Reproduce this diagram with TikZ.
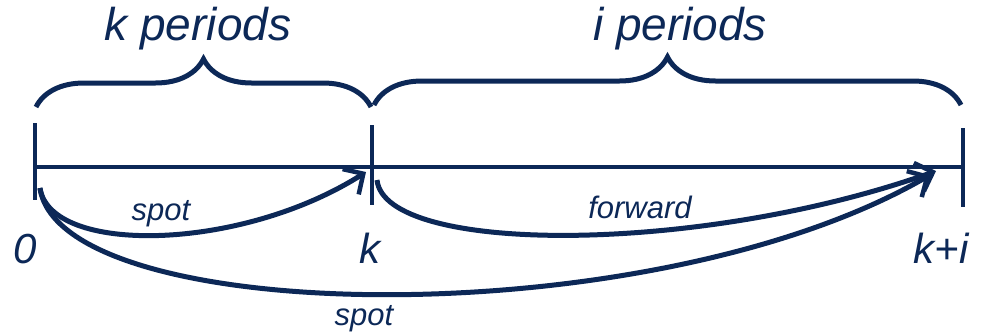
\documentclass[tikz,border=0pt]{standalone}
\usepackage{fontspec}
\setmainfont{Liberation Sans}
\usetikzlibrary{arrows.meta,decorations.pathreplacing}
\definecolor{navy}{RGB}{12,40,87}
\begin{document}
\begin{tikzpicture}[x=1pt,y=-1pt,
  every node/.style={text=navy,font=\itshape,inner sep=0pt},
  biglabel/.style={font=\fontsize{46}{52}\selectfont\itshape,anchor=base},
  ticklabel/.style={font=\fontsize{42}{48}\selectfont\itshape,anchor=base},
  arclabel/.style={font=\fontsize{31}{36}\selectfont\itshape,anchor=base},
  axis/.style={draw=navy,line width=3.5pt},
  period/.style={draw=navy,line width=5pt,decorate,decoration={brace,amplitude=48pt}},
  flow/.style={draw=navy,line width=5pt,-{Straight Barb[length=15pt,width=30pt,line width=4.5pt]}}]
\path[use as bounding box] (0,0) rectangle (986,333);

% time axis with tick marks
\coordinate (t0a) at (35,123);  \coordinate (t0b) at (35,200);
\coordinate (tka) at (372,125); \coordinate (tkb) at (372,205);
\coordinate (tia) at (963,128); \coordinate (tib) at (963,207);
\coordinate (ax0) at (35,167);  \coordinate (ax1) at (963,167);
\draw[axis] (ax0) -- (ax1);
\draw[axis] (t0a) -- (t0b);
\draw[axis] (tka) -- (tkb);
\draw[axis] (tia) -- (tib);

% period braces
\coordinate (b0) at (36,107);  \coordinate (b1) at (371,107);
\coordinate (b2) at (374,105); \coordinate (b3) at (961,105);
\draw[period] (b0) -- (b1);
\draw[period] (b2) -- (b3);
\node[biglabel] (kper) at (198,40) {k periods};
\node[biglabel] (iper) at (680,40) {i periods};

% point labels
\node[ticklabel] (l0) at (25,263) {0};
\node[ticklabel] (lk) at (370,263) {k};
\node[ticklabel] (li) at (941,263) {k+i};

% rate arcs
\coordinate (s0) at (40,188);
\coordinate (sk) at (377,180);
\coordinate (ek) at (366,172);
\coordinate (ei) at (936,171);
\coordinate (ej) at (930,175);
\draw[flow] (s0) .. controls (50,255) and (240,252) .. (ek);
\draw[flow] (sk) .. controls (385,255) and (700,255) .. (ei);
\draw[flow] (s0) .. controls (60,327) and (650,337) .. (ej);
\node[arclabel] (spot1) at (161,220) {spot};
\node[arclabel] (fwd) at (640,218) {forward};
\node[arclabel] (spot2) at (364,325) {spot};
\end{tikzpicture}
\end{document}
